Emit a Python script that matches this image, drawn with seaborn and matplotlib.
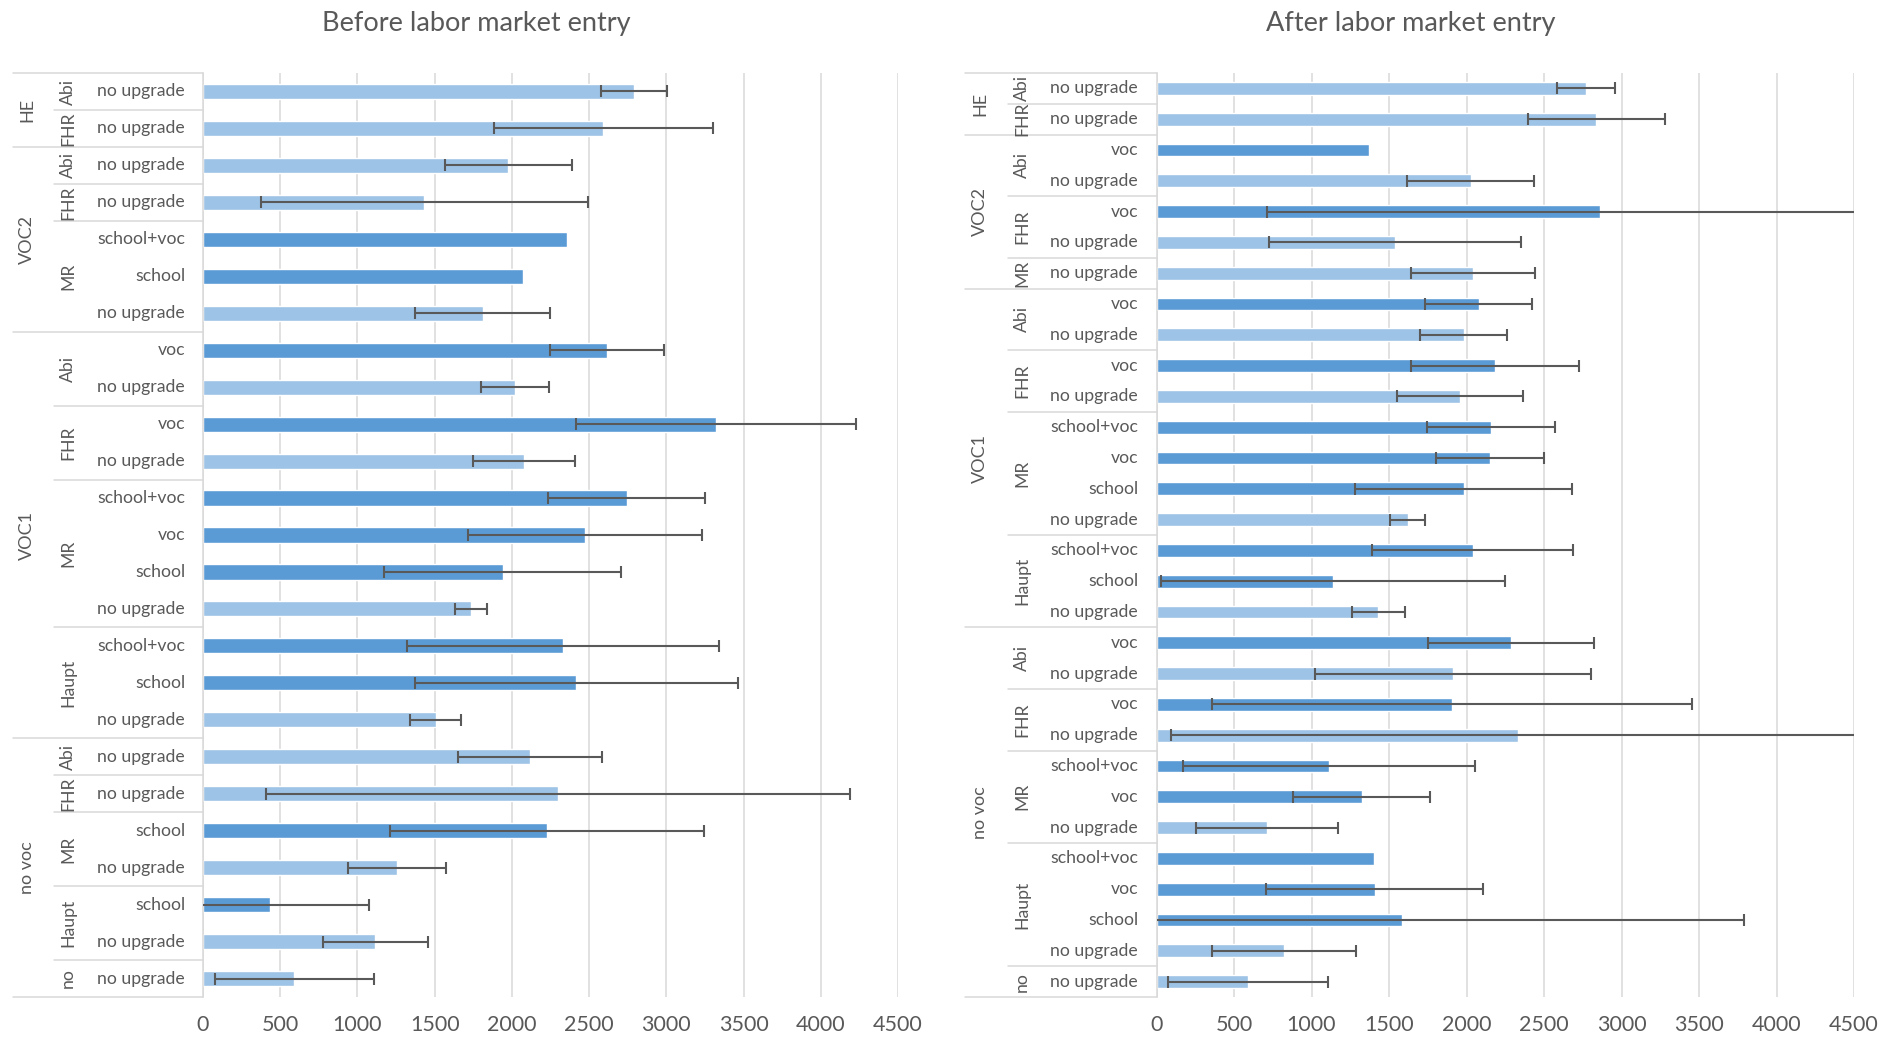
import numpy as np
import pandas as pd
import matplotlib
matplotlib.use("Agg")
import matplotlib.pyplot as plt
import matplotlib.transforms as mtransforms
import seaborn as sns

# ---- Before labor market entry ----
before_level1 = ["HE", "HE", "VOC2", "VOC2", "VOC2", "VOC2", "VOC2",
                 "VOC1", "VOC1", "VOC1", "VOC1", "VOC1", "VOC1", "VOC1", "VOC1",
                 "VOC1", "VOC1", "VOC1",
                 "no voc", "no voc", "no voc", "no voc", "no voc", "no voc", "no voc"]
before_level2 = ["Abi", "FHR", "Abi", "FHR", "MR", "MR", "MR",
                 "Abi", "Abi", "FHR", "FHR", "MR", "MR", "MR", "MR",
                 "Haupt", "Haupt", "Haupt",
                 "Abi", "FHR", "MR", "MR", "Haupt", "Haupt", "no"]
before_level3 = ["no upgrade", "no upgrade", "no upgrade", "no upgrade",
                 "school+voc", "school", "no upgrade",
                 "voc", "no upgrade", "voc", "no upgrade",
                 "school+voc", "voc", "school", "no upgrade",
                 "school+voc", "school", "no upgrade",
                 "no upgrade", "no upgrade", "school", "no upgrade",
                 "school", "no upgrade", "no upgrade"]
before_mean = [2789, 2591, 1975, 1434, 2355, 2075, 1811,
               2616, 2019, 3321, 2079, 2745, 2475, 1940, 1733,
               2330, 2418, 1506,
               2116, 2299, 2226, 1255, 434, 1116, 591]
before_err = [215, 709, 411, 1058, np.nan, np.nan, 437,
              370, 221, 904, 330, 508, 758, 766, 104,
              1010, 1046, 167,
              467, 1888, 1016, 319, 638, 340, 516]

# ---- After labor market entry ----
after_level1 = ["HE", "HE", "VOC2", "VOC2", "VOC2", "VOC2", "VOC2",
                "VOC1", "VOC1", "VOC1", "VOC1", "VOC1", "VOC1", "VOC1", "VOC1",
                "VOC1", "VOC1", "VOC1",
                "no voc", "no voc", "no voc", "no voc", "no voc", "no voc",
                "no voc", "no voc", "no voc", "no voc", "no voc", "no voc"]
after_level2 = ["Abi", "FHR", "Abi", "Abi", "FHR", "FHR", "MR",
                "Abi", "Abi", "FHR", "FHR", "MR", "MR", "MR", "MR",
                "Haupt", "Haupt", "Haupt",
                "Abi", "Abi", "FHR", "FHR", "MR", "MR", "MR",
                "Haupt", "Haupt", "Haupt", "Haupt", "no"]
after_level3 = ["no upgrade", "no upgrade", "voc", "no upgrade", "voc",
                "no upgrade", "no upgrade",
                "voc", "no upgrade", "voc", "no upgrade",
                "school+voc", "voc", "school", "no upgrade",
                "school+voc", "school", "no upgrade",
                "voc", "no upgrade", "voc", "no upgrade",
                "school+voc", "voc", "no upgrade",
                "school+voc", "voc", "school", "no upgrade", "no upgrade"]
after_mean = [2770, 2837, 1372, 2027, 2861, 1537, 2043,
              2079, 1982, 2184, 1958, 2157, 2151, 1982, 1621,
              2039, 1140, 1432,
              2286, 1910, 1904, 2331, 1113, 1324, 713,
              1402, 1408, 1585, 824, 590]
after_err = [185, 442, np.nan, 410, 2148, 813, 400,
             346, 281, 545, 408, 415, 347, 700, 114,
             650, 1110, 170,
             535, 890, 1549, 2238, 939, 441, 460,
             np.nan, 700, 2208, 466, 516]

x_ticks = list(range(0, 4501, 500))

LIGHT = "#9DC3E6"
DARK = "#5B9BD5"
TEXT = "#595959"
GRID = "#D9D9D9"
ERR = "#595959"

sns.set_theme(style="white")
plt.rcParams["font.family"] = ["Lato", "DejaVu Sans"]

W, H = 1878, 1038
fig = plt.figure(figsize=(W / 100, H / 100), dpi=100)

def fx(px):
    return px / W

def runs(keys):
    out, start = [], 0
    for i in range(1, len(keys) + 1):
        if i == len(keys) or keys[i] != keys[start]:
            out.append((start, i - 1))
            start = i
    return out

def draw_panel(ax, l1, l2, l3, mean, err, layout, title):
    n = len(mean)
    rows = [f"{a}|{b}|{c}|{i}" for i, (a, b, c) in enumerate(zip(l1, l2, l3))]
    kinds = ["base" if c == "no upgrade" else "upgrade" for c in l3]
    df = pd.DataFrame({"row": rows, "value": mean, "kind": kinds})
    sns.barplot(data=df, x="value", y="row", hue="kind", order=rows,
                hue_order=["base", "upgrade"],
                palette={"base": LIGHT, "upgrade": DARK},
                dodge=False, width=0.41, saturation=1, errorbar=None,
                legend=False, ax=ax, zorder=2)

    err_arr = np.asarray(err, dtype=float)
    ok = np.isfinite(err_arr)
    ypos = np.arange(n)
    ax.errorbar(np.asarray(mean, dtype=float)[ok], ypos[ok], xerr=err_arr[ok],
                fmt="none", ecolor=ERR, elinewidth=1.5, capsize=4.4,
                capthick=1.5, zorder=3)

    ax.set_xlim(0, 4500)
    ax.set_ylim(n - 0.5, -0.5)
    ax.set_xticks(x_ticks)
    ax.set_xticklabels([str(t) for t in x_ticks])
    ax.set_yticks([])
    ax.set_xlabel("")
    ax.set_ylabel("")
    ax.xaxis.grid(True, color=GRID, lw=1.1)
    ax.yaxis.grid(False)
    ax.set_axisbelow(True)
    ax.tick_params(axis="x", length=0, pad=13, labelsize=15.5, labelcolor=TEXT)
    for s in ["top", "right", "bottom"]:
        ax.spines[s].set_visible(False)
    ax.spines["left"].set_color(GRID)
    ax.spines["left"].set_linewidth(1.1)

    trans = mtransforms.blended_transform_factory(fig.transFigure, ax.transData)
    axis_x = fx(layout["axis"])
    lkw = dict(transform=trans, clip_on=False, color=GRID, lw=1.1)
    fs = 12.7

    for i, t in enumerate(l3):
        ax.text(fx(layout["l3"]), i, t, transform=trans, ha="right",
                va="center", fontsize=fs, color=TEXT)

    r1 = runs(l1)
    starts1 = set()
    for s, e in r1:
        starts1.add(s)
        ax.text(fx(layout["l1"]), (s + e) / 2, l1[s], transform=trans,
                rotation=90, ha="center", va="center", fontsize=13, color=TEXT)
        ax.plot([fx(layout["l1_line"]), axis_x], [s - 0.5, s - 0.5], **lkw)
    ax.plot([fx(layout["l1_line"]), axis_x], [n - 0.5, n - 0.5], **lkw)

    for s, e in runs(list(zip(l1, l2))):
        ax.text(fx(layout["l2"]), (s + e) / 2, l2[s], transform=trans,
                rotation=90, ha="center", va="center", fontsize=fs, color=TEXT)
        if s not in starts1:
            ax.plot([fx(layout["l2_line"]), axis_x], [s - 0.5, s - 0.5], **lkw)

    ax.set_xlim(0, 4500)
    ax.set_ylim(n - 0.5, -0.5)

    fig.text(fx(layout["title"]), 1 - 24 / H, title, ha="center", va="center",
             fontsize=19.5, color=TEXT)

top_px, bot_px = 73, 997
ax_l = fig.add_axes([fx(203), 1 - bot_px / H, fx(898 - 203), (bot_px - top_px) / H])
ax_r = fig.add_axes([fx(1156.5), 1 - bot_px / H, fx(1854 - 1156.5), (bot_px - top_px) / H])

draw_panel(ax_l, before_level1, before_level2, before_level3, before_mean, before_err,
           dict(axis=203, l1_line=13, l2_line=54, l1=27, l2=68, l3=185, title=476),
           "Before labor market entry")
draw_panel(ax_r, after_level1, after_level2, after_level3, after_mean, after_err,
           dict(axis=1156.5, l1_line=965, l2_line=1008, l1=980, l2=1022, l3=1138, title=1411),
           "After labor market entry")

fig.savefig("out.png", dpi=100, facecolor="white")
